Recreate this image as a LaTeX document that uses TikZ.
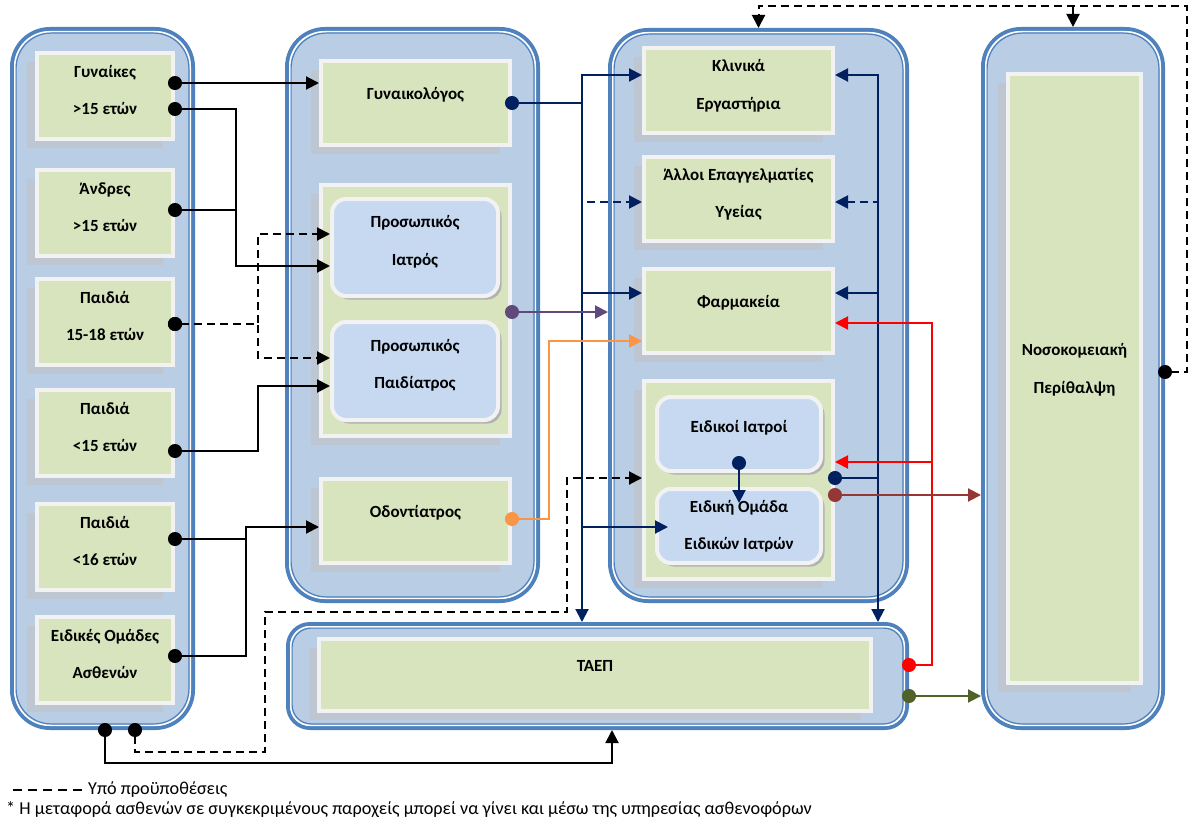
\documentclass[tikz,border=0pt]{standalone}
\usepackage{fontspec}
\setmainfont{Carlito}
\usetikzlibrary{arrows.meta,shadows,calc}
\definecolor{cblue}{HTML}{4F81BD}
\definecolor{cfill}{HTML}{B9CDE5}
\definecolor{gfill}{HTML}{D7E4BD}
\definecolor{bwhite}{HTML}{F2F2F2}
\definecolor{dfill}{HTML}{C6D9F1}
\definecolor{sgray}{HTML}{BEC6D2}
\definecolor{navy}{HTML}{002060}
\definecolor{purp}{HTML}{604A7B}
\definecolor{orng}{HTML}{F79646}
\definecolor{brwn}{HTML}{953735}
\definecolor{olv}{HTML}{4F6228}
\begin{document}
\begin{tikzpicture}[x=1pt, y=-1pt, inner sep=0pt,
		container/.style={draw=cblue, line width=4pt, fill=cfill, rounded corners=38pt},
		box/.style={draw=bwhite, line width=4pt, fill=gfill, align=center,
			font=\fontsize{17}{37.5}\selectfont\bfseries, text depth=12pt},
		greenbox/.style={box, drop shadow={shadow xshift=-10pt, shadow yshift=-9pt, fill=sgray, opacity=1}},
		docbox/.style={box, fill=dfill, rounded corners=14pt,
			drop shadow={shadow xshift=3.5pt, shadow yshift=-3.5pt, fill=gray!60, opacity=1}},
		oneline/.style={text depth=19pt},
		ln/.style={line width=2pt},
		arr/.style={ln, -{Triangle[length=13pt, width=13pt]}},
		dotarr/.style={ln, {Circle[length=14pt]}-{Triangle[length=13pt, width=13pt]}, shorten <=-7pt},
		dotln/.style={ln, {Circle[length=14pt]}-, shorten <=-7pt},
		cond/.style={dash pattern=on 8pt off 5pt},
		legtext/.style={font=\fontsize{18.2}{21}\selectfont, anchor=west}]
	\useasboundingbox (0,0) rectangle (1198,824);

	\node [container, minimum width=181, minimum height=699] (lcol) at (102.5,378.5) {};
	\node [container, minimum width=251, minimum height=572] (mcol) at (412.5,315) {};
	\node [container, minimum width=297, minimum height=571] (rcol) at (758.5,315.5) {};
	\node [container, minimum width=619, minimum height=104, rounded corners=22pt] (tcol) at (597.5,676) {};
	\node [container, minimum width=180, minimum height=699] (hcol) at (1073,378.5) {};
	\foreach \cn/\r in {lcol/35pt, mcol/35pt, rcol/35pt, hcol/35pt, tcol/19pt} {
		\draw [white, line width=1.5pt, rounded corners=\r] ($(\cn.north west)+(4.75,4.75)$) rectangle ($(\cn.south east)-(4.75,4.75)$);
		\draw [cblue, line width=1.2pt, rounded corners=\r] ($(\cn.north west)+(6.1,6.1)$) rectangle ($(\cn.south east)-(6.1,6.1)$);
	}

	\foreach \n/\y/\t in {wom/96/{Γυναίκες\\>15 ετών}, men/213/{Άνδρες\\>15 ετών},
			ch18/322/{Παιδιά\\15-18 ετών}, ch15/433/{Παιδιά\\<15 ετών},
			ch16/547/{Παιδιά\\<16 ετών}, grp/660/{Ειδικές Ομάδες\\Ασθενών}}
		\node [greenbox, minimum width=136, minimum height=86] (\n) at (105,\y) {\t};

	\node [greenbox, minimum width=189, minimum height=84, oneline] (gyn) at (415.5,103) {Γυναικολόγος};
	\node [greenbox, minimum width=189, minimum height=251] (pbox) at (415.5,310.5) {};
	\node [docbox, minimum width=166, minimum height=97, text depth=14.6pt] (pdoc) at (415,247.5) {Προσωπικός\\Ιατρός};
	\node [docbox, minimum width=166, minimum height=98, text depth=14.6pt] (pped) at (415,371) {Προσωπικός\\Παιδίατρος};
	\node [greenbox, minimum width=189, minimum height=84, oneline] (dent) at (415.5,521) {Οδοντίατρος};

	\node [greenbox, minimum width=189, minimum height=85, text depth=12.6pt] (lab) at (738.5,90.5) {Κλινικά\\Εργαστήρια};
	\node [greenbox, minimum width=189, minimum height=84] (oth) at (738.5,199) {Άλλοι Επαγγελματίες\\Υγείας};
	\node [greenbox, minimum width=189, minimum height=84, oneline] (pha) at (738.5,311) {Φαρμακεία};
	\node [greenbox, minimum width=189, minimum height=198] (sbox) at (738.5,480) {};
	\node [docbox, minimum width=164, minimum height=74, text depth=15.6pt] (spec) at (739,434) {Ειδικοί Ιατροί};
	\node [docbox, minimum width=164, minimum height=74, text depth=2pt] (team) at (739,526) {Ειδική Ομάδα\\Ειδικών Ιατρών};

	\node [greenbox, minimum width=552, minimum height=72, text depth=17.6pt] (taep) at (595,675) {ΤΑΕΠ};
	\node [greenbox, minimum width=133, minimum height=609, text depth=20.6pt] (hosp) at (1074.5,378.5) {Νοσοκομειακή\\Περίθαλψη};

	\coordinate (jA) at (236,266);
	\coordinate (jB) at (258,234);
	\coordinate (jC) at (258,358);
	\coordinate (jD) at (258,386);
	\coordinate (jE) at (246,527);
	\coordinate (jF) at (612,763);
	\coordinate (jG) at (265,752);
	\coordinate (jH) at (567,612);
	\coordinate (jI) at (582,103);
	\coordinate (jJ) at (549,341);
	\coordinate (jK) at (932,323);
	\coordinate (jL) at (932,462);
	\coordinate (jR) at (878,478);
	\coordinate (jM) at (1187,6);

	\draw [dotarr] ([yshift=13pt]wom.east) -- ([yshift=20pt]gyn.west);
	\draw [dotarr] ([yshift=-13pt]wom.east) -| (jA) -- ([yshift=-18.5pt]pdoc.west);
	\draw [dotln] ([yshift=3pt]men.east) -| (jA);
	\draw [cond, dotarr] ([yshift=-2pt]ch18.east) -| (jB) -- ([yshift=13.5pt]pdoc.west);
	\draw [cond, dotarr] ([yshift=-2pt]ch18.east) -| (jC) -- ([yshift=13pt]pped.west);
	\draw [dotarr] ([yshift=-18pt]ch15.east) -| (jD) -- ([yshift=-15pt]pped.west);
	\draw [dotarr] ([yshift=8pt]ch16.east) -| (jE) -- ([yshift=-6pt]dent.west);
	\draw [dotln] ([yshift=4pt]grp.east) -| (jE);
	\draw [dotarr] ([xshift=2.5pt]lcol.south) |- (jF) -- ([xshift=14.5pt]tcol.south);
	\draw [cond, dotarr] ([xshift=32.5pt]lcol.south) |- (jG) |- (jH) |- ([yshift=2pt]sbox.west);

	\draw [navy, dotln] (gyn.east) -- (jI);
	\draw [navy, arr] (jI) |- ([yshift=15.5pt]lab.west);
	\draw [navy, cond, arr] (jI) |- ([yshift=-3pt]oth.west);
	\draw [navy, arr] (jI) |- ([yshift=18pt]pha.west);
	\draw [navy, arr] (jI) |- ([xshift=13pt, yshift=-1pt]team.west);
	\draw [navy, arr] (jI) -- (jI |- tcol.north);
	\draw [navy, dotln] ([yshift=2pt]sbox.east) -- (jR);
	\draw [navy, arr] (jR) |- ([yshift=15.5pt]lab.east);
	\draw [navy, cond, arr] (jR) |- ([yshift=-3pt]oth.east);
	\draw [navy, arr] (jR) |- ([yshift=18pt]pha.east);
	\draw [navy, arr] (jR) -- (jR |- tcol.north);
	\draw [navy, dotarr] ([yshift=10pt]spec.south) -- ([yshift=-16pt]team.north);

	\draw [purp, dotarr] ([yshift=-1.5pt]pbox.east) -- ([yshift=3.5pt]rcol.west);
	\draw [orng, dotarr] ([yshift=2pt]dent.east) -| (jJ) -- ([yshift=-30pt]pha.west);
	\draw [red, dotarr] ([yshift=11pt]tcol.east) -| (jK) -- ([yshift=-12pt]pha.east);
	\draw [red, arr] (jL) -- ([yshift=18pt]sbox.east);
	\draw [brwn, dotarr] ([yshift=-15pt]sbox.east) -- ([yshift=-116.5pt]hcol.west);
	\draw [olv, dotarr] ([yshift=-20pt]tcol.east) -- ([yshift=-317.5pt]hcol.west);
	\draw [cond, dotarr] ([yshift=6.5pt]hcol.east) -| (jM) -| (rcol.north);
	\draw [cond, arr] (hcol.north |- jM) -- (hcol.north);

	\coordinate (legA) at (13,790);
	\coordinate (legB) at (83,790);
	\draw [ln, dash pattern=on 9pt off 6pt] (legA) -- (legB);
	\node [legtext] (legcond) at (88,790) {Υπό προϋποθέσεις};
	\node [legtext] (legnote) at (6,810) {* Η μεταφορά ασθενών σε συγκεκριμένους παροχείς μπορεί να γίνει και μέσω της υπηρεσίας ασθενοφόρων};
\end{tikzpicture}
\end{document}
